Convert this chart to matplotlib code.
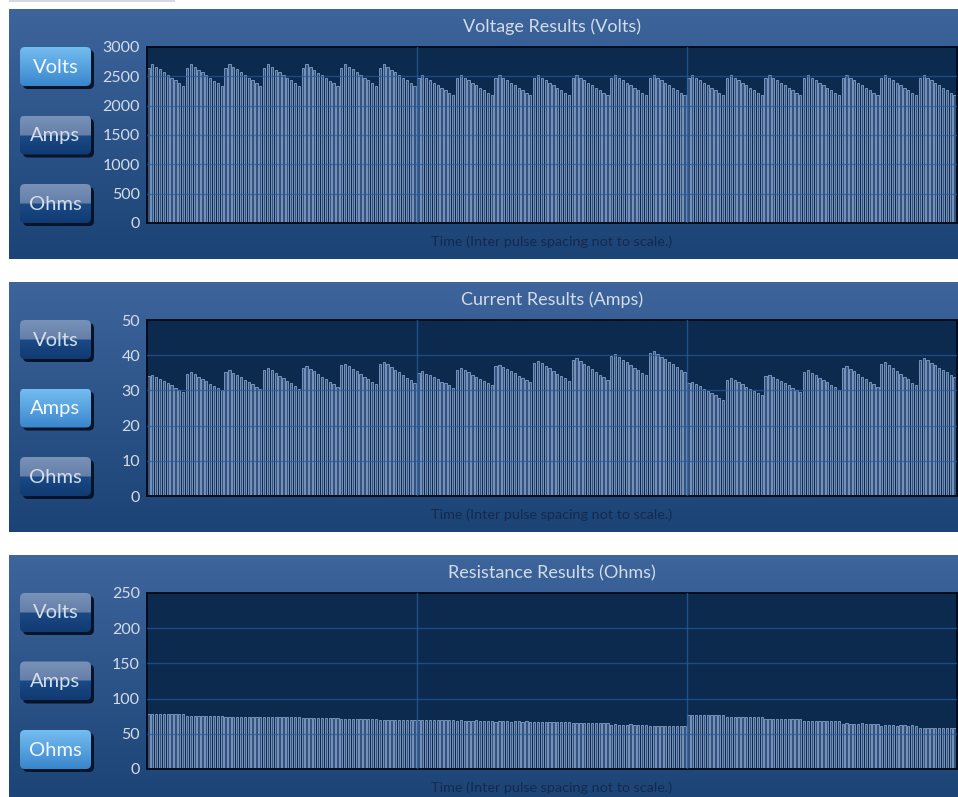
import matplotlib
matplotlib.use("Agg")
import matplotlib.pyplot as plt
import numpy as np
from matplotlib.patches import FancyBboxPatch, Rectangle
from matplotlib.colors import to_rgb

plt.rcParams['font.family'] = ['Lato', 'DejaVu Sans']

# ---------------- data (per group of 10 pulses, 21 groups) ----------------
VOLTS = [
    [2640, 2710, 2665, 2620, 2570, 2525, 2475, 2430, 2380, 2335],
    [2645, 2705, 2660, 2615, 2570, 2520, 2475, 2425, 2380, 2330],
    [2650, 2710, 2665, 2620, 2575, 2525, 2480, 2430, 2385, 2340],
    [2645, 2710, 2665, 2615, 2570, 2525, 2475, 2430, 2380, 2335],
    [2640, 2705, 2660, 2615, 2565, 2520, 2475, 2425, 2380, 2330],
    [2650, 2710, 2665, 2620, 2570, 2525, 2480, 2430, 2385, 2335],
    [2645, 2710, 2660, 2615, 2570, 2520, 2475, 2430, 2380, 2335],
    [2480, 2520, 2475, 2435, 2390, 2345, 2305, 2260, 2220, 2180],
    [2475, 2515, 2475, 2430, 2385, 2345, 2300, 2260, 2215, 2175],
    [2480, 2520, 2480, 2435, 2390, 2350, 2305, 2265, 2220, 2180],
    [2480, 2520, 2475, 2430, 2390, 2345, 2300, 2260, 2215, 2175],
    [2475, 2520, 2475, 2435, 2390, 2345, 2305, 2260, 2220, 2175],
    [2480, 2520, 2480, 2435, 2390, 2350, 2305, 2260, 2220, 2180],
    [2480, 2515, 2475, 2430, 2385, 2345, 2300, 2260, 2215, 2175],
    [2480, 2520, 2475, 2435, 2390, 2345, 2305, 2260, 2220, 2180],
    [2475, 2520, 2475, 2430, 2390, 2345, 2300, 2260, 2215, 2175],
    [2480, 2520, 2480, 2435, 2390, 2350, 2305, 2265, 2220, 2180],
    [2480, 2515, 2475, 2430, 2385, 2345, 2300, 2260, 2215, 2175],
    [2475, 2520, 2475, 2435, 2390, 2345, 2305, 2260, 2220, 2180],
    [2480, 2520, 2480, 2435, 2390, 2350, 2305, 2260, 2220, 2175],
    [2480, 2520, 2475, 2430, 2390, 2345, 2300, 2260, 2215, 2175],
]

AMPS = [
    [34.0, 34.5, 33.9, 33.2, 32.6, 32.0, 31.4, 30.7, 30.1, 29.5],
    [34.7, 35.2, 34.6, 33.9, 33.3, 32.6, 31.9, 31.3, 30.6, 30.0],
    [35.2, 35.7, 35.0, 34.4, 33.7, 33.0, 32.3, 31.7, 31.0, 30.3],
    [35.9, 36.4, 35.7, 34.9, 34.2, 33.5, 32.7, 32.0, 31.2, 30.5],
    [36.4, 36.9, 36.2, 35.4, 34.7, 33.9, 33.2, 32.4, 31.7, 30.9],
    [37.1, 37.6, 36.9, 36.1, 35.4, 34.6, 33.9, 33.2, 32.4, 31.7],
    [37.6, 38.1, 37.4, 36.6, 35.9, 35.1, 34.4, 33.6, 32.9, 32.1],
    [34.9, 35.4, 34.8, 34.3, 33.7, 33.1, 32.5, 32.0, 31.4, 30.8],
    [35.8, 36.3, 35.7, 35.1, 34.5, 33.9, 33.3, 32.7, 32.1, 31.5],
    [36.8, 37.3, 36.7, 36.1, 35.5, 34.9, 34.2, 33.6, 33.0, 32.4],
    [37.9, 38.4, 37.7, 37.0, 36.3, 35.6, 34.8, 34.1, 33.4, 32.7],
    [38.7, 39.2, 38.4, 37.6, 36.8, 36.0, 35.3, 34.5, 33.7, 32.9],
    [39.7, 40.2, 39.5, 38.7, 38.0, 37.2, 36.5, 35.8, 35.0, 34.3],
    [40.6, 41.1, 40.4, 39.6, 38.9, 38.1, 37.4, 36.7, 35.9, 35.2],
    [32.2, 32.4, 31.8, 31.2, 30.5, 29.9, 29.2, 28.6, 27.9, 27.3],
    [33.0, 33.5, 32.9, 32.3, 31.7, 31.1, 30.4, 29.8, 29.2, 28.6],
    [34.0, 34.5, 33.9, 33.2, 32.6, 32.0, 31.4, 30.7, 30.1, 29.5],
    [35.2, 35.7, 35.0, 34.3, 33.6, 32.9, 32.3, 31.6, 30.9, 30.2],
    [36.4, 36.9, 36.2, 35.4, 34.7, 33.9, 33.2, 32.4, 31.7, 30.9],
    [37.6, 38.1, 37.3, 36.4, 35.6, 34.8, 33.9, 33.1, 32.2, 31.4],
    [38.7, 39.2, 38.5, 37.8, 37.2, 36.5, 35.8, 35.1, 34.5, 33.8],
]

OHMS = [
    [77.5, 77.9, 77.8, 77.7, 77.6, 77.8, 77.7, 77.6, 77.7, 77.5],
    [75.7, 75.9, 75.8, 75.8, 75.7, 75.9, 75.8, 75.7, 75.8, 75.7],
    [74.2, 74.4, 74.3, 74.3, 74.2, 74.4, 74.3, 74.2, 74.3, 74.2],
    [73.3, 73.5, 73.4, 73.4, 73.3, 73.5, 73.4, 73.3, 73.4, 73.3],
    [72.3, 72.5, 72.4, 72.4, 72.3, 72.5, 72.4, 72.3, 72.4, 72.3],
    [70.5, 70.7, 70.6, 70.6, 70.5, 70.7, 70.6, 70.5, 70.6, 70.5],
    [69.3, 69.5, 69.4, 69.4, 69.3, 69.5, 69.4, 69.3, 69.4, 69.3],
    [69.9, 70.1, 70.0, 70.0, 69.9, 70.1, 70.0, 69.9, 70.0, 69.9],
    [68.7, 68.9, 68.8, 68.8, 68.7, 68.9, 68.8, 68.7, 68.8, 68.7],
    [67.4, 67.6, 67.5, 67.5, 67.4, 67.6, 67.5, 67.4, 67.5, 67.4],
    [66.1, 66.3, 66.2, 66.2, 66.1, 66.3, 66.2, 66.1, 66.2, 66.1],
    [64.7, 64.9, 64.8, 64.8, 64.7, 64.9, 64.8, 64.7, 64.8, 64.7],
    [63.1, 63.3, 63.2, 63.2, 63.1, 63.3, 63.2, 63.1, 63.2, 63.1],
    [61.4, 61.6, 61.5, 61.5, 61.4, 61.6, 61.5, 61.4, 61.5, 61.4],
    [76.9, 77.1, 77.0, 77.0, 76.9, 77.1, 77.0, 76.9, 77.0, 76.9],
    [74.1, 74.3, 74.2, 74.2, 74.1, 74.3, 74.2, 74.1, 74.2, 74.1],
    [71.5, 71.7, 71.6, 71.6, 71.5, 71.7, 71.6, 71.5, 71.6, 71.5],
    [67.9, 68.1, 68.0, 68.0, 67.9, 68.1, 68.0, 67.9, 68.0, 67.9],
    [64.5, 64.7, 64.6, 64.6, 64.5, 64.7, 64.6, 64.5, 64.6, 64.5],
    [61.7, 61.9, 61.8, 61.8, 61.7, 61.9, 61.8, 61.7, 61.8, 61.7],
    [58.7, 58.9, 58.8, 58.8, 58.7, 58.9, 58.8, 58.7, 58.8, 58.7],
]

TITLES = ["Voltage Results (Volts)", "Current Results (Amps)", "Resistance Results (Ohms)"]
XLABEL = "Time (Inter pulse spacing not to scale.)"
BUTTONS = ["Volts", "Amps", "Ohms"]
YMAX = [3000, 50, 250]
YSTEP = [500, 10, 50]
SECTIONS = [70, 140]   # pulse index where a new section begins

# ---------------- layout (pixels) ----------------
W, H = 958, 797
fig = plt.figure(figsize=(W / 100, H / 100), dpi=100)
fig.patch.set_facecolor('white')
bg = fig.add_axes([0, 0, 1, 1])
bg.set_xlim(0, W)
bg.set_ylim(H, 0)
bg.axis('off')

panel_tops = [9, 282, 555]
panel_h = 250
ax_top_off = 38
ax_h = 176
ax_left, ax_right = 147, 957

TEXT = '#d3dce8'
XLBL = '#15294d'

# thin grey strip at the very top
bg.add_patch(Rectangle((9, 0), 166, 2, fc='#d5d9df', ec='none'))


def vgrad(c_top, c_bot, n=64):
    t = np.linspace(0, 1, n)[:, None]
    a = np.array(to_rgb(c_top))
    b = np.array(to_rgb(c_bot))
    return (a * (1 - t) + b * t)[:, None, :].reshape(n, 1, 3)


def button(x, y, w, h, label, active):
    shadow = FancyBboxPatch((x + 3, y + 3), w, h, boxstyle="round,pad=0,rounding_size=5",
                            fc='#06142a', ec='none', zorder=3)
    bg.add_patch(shadow)
    body = FancyBboxPatch((x, y), w, h, boxstyle="round,pad=0,rounding_size=5",
                          fc='none', ec='none', zorder=4)
    bg.add_patch(body)
    if active:
        img = vgrad('#74bdf0', '#3a86cd')
        tc = '#f4f8fc'
    else:
        n = 64
        top = vgrad('#7892b8', '#667fa9', n // 2)
        bot = vgrad('#1a4a86', '#113a72', n // 2)
        img = np.concatenate([top, bot], axis=0)
        tc = '#d5deea'
    im = bg.imshow(img, extent=(x, x + w, y + h, y), origin='upper', aspect='auto', zorder=4)
    im.set_clip_path(body)
    bg.text(x + w / 2, y + h / 2 + 0.5, label, ha='center', va='center', color=tc,
            fontsize=14.5, zorder=5)


for p in range(3):
    top = panel_tops[p]
    bottom = min(top + panel_h, H)
    if p == 2:
        bottom = H + 5
    im = bg.imshow(vgrad('#3d659c', '#1c4375'), extent=(9, W + 2, top + panel_h, top),
                   origin='upper', aspect='auto', zorder=1)
    im.set_clip_path(Rectangle((9, top), W, bottom - top, transform=bg.transData))
    bg.text(552, top + 18, TITLES[p], ha='center', va='center', color=TEXT, fontsize=13, zorder=5)
    bg.text(552, top + 233, XLABEL, ha='center', va='center', color=XLBL, fontsize=10.4, zorder=5)
    for b in range(3):
        button(20, top + 38 + b * 68.5, 71, 39, BUTTONS[b], b == p)

bg.set_xlim(0, W)
bg.set_ylim(H, 0)

datasets = [VOLTS, AMPS, OHMS]
for p in range(3):
    top = panel_tops[p] + ax_top_off
    ax = fig.add_axes([ax_left / W, 1 - (top + ax_h) / H, (ax_right - ax_left) / W, ax_h / H])
    ax.set_facecolor('#0b2a4e')
    vals = np.array(datasets[p]).ravel()
    x = np.arange(len(vals))
    ax.bar(x + 0.08, vals, width=0.6, align='edge', facecolor='#34547f',
           edgecolor='#86a0c6', linewidth=0.6, zorder=2)
    ax.set_xlim(0, len(vals))
    ax.set_ylim(0, YMAX[p])
    ax.set_yticks(np.arange(0, YMAX[p] + 1, YSTEP[p]))
    ax.set_xticks([])
    for yv in np.arange(YSTEP[p], YMAX[p], YSTEP[p]):
        ax.axhline(yv, color='#245a9e', lw=1.0, alpha=0.7, zorder=3)
    for s in SECTIONS:
        ax.axvline(s, color='#245a9e', lw=1.0, alpha=0.8, zorder=3)
    ax.tick_params(axis='y', length=0, pad=5, labelsize=11.5, labelcolor=TEXT)
    for sp in ax.spines.values():
        sp.set_color('#050c18')
        sp.set_linewidth(1.4)

fig.savefig('out.png', dpi=100, facecolor='white')
